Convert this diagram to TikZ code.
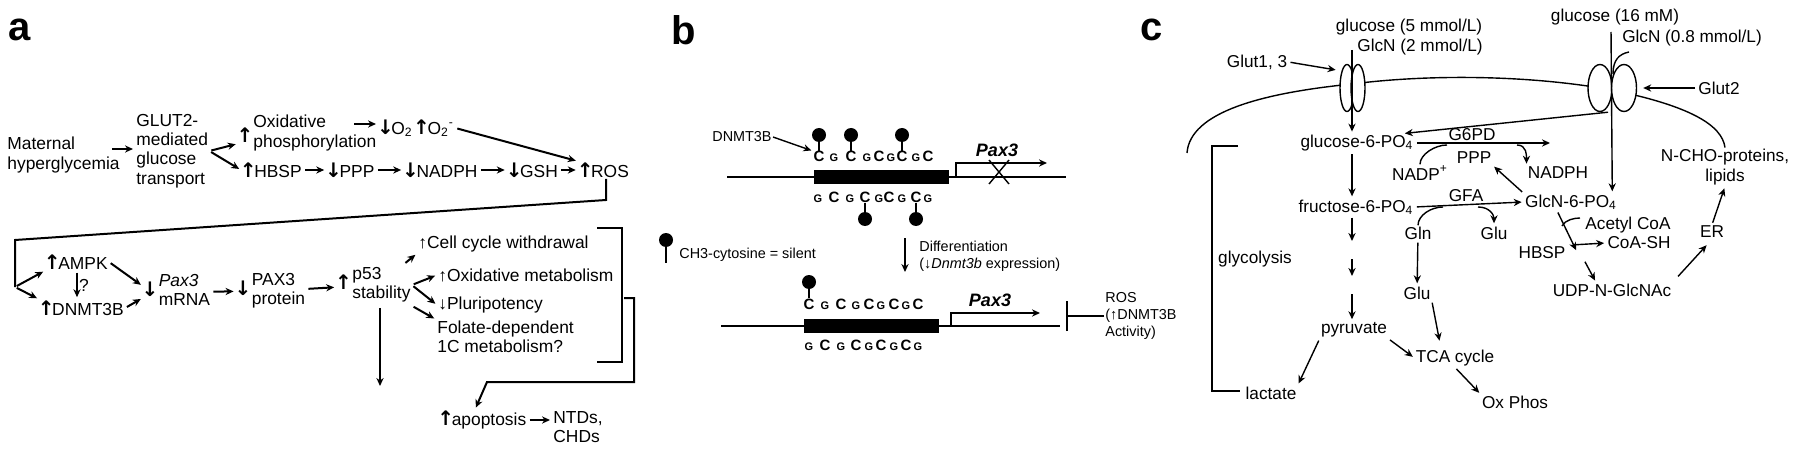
\documentclass[tikz,border=0pt]{standalone}
\usepackage{fontspec}
\setmainfont{Liberation Sans}
\newfontfamily\arrfont{DejaVu Sans}
\usepackage{tikz}
\usetikzlibrary{calc,shapes,positioning}
\usetikzlibrary{arrows.meta}
\tikzset{>={Stealth[length=4pt,width=3.6pt]}}
\newcommand{\upar}{\makebox[6pt][c]{\arrfont\bfseries\fontsize{10}{10}\selectfont ↑}}
\newcommand{\dnar}{\makebox[6pt][c]{\arrfont\bfseries\fontsize{10}{10}\selectfont ↓}}
\newcommand{\stk}[1]{\begin{tabular}[c]{@{}l@{}}#1\end{tabular}}

\begin{document}
\begin{tikzpicture}[x=0.5pt,y=-0.5pt]
      \tikzstyle{lbl} = [inner sep=0pt, font=\fontsize{20}{20}\selectfont\bfseries]
      \tikzstyle{atxt} = [inner sep=0.5pt, align=left, font=\fontsize{8.7}{9.7}\selectfont]
      \tikzstyle{aarr} = [->, line width=1pt, shorten >=1pt, shorten <=1pt]
      \tikzstyle{btxt} = [inner sep=0.5pt, align=left, font=\fontsize{7.2}{8.5}\selectfont]
      \tikzstyle{cbase} = [inner sep=0pt, anchor=base, font=\fontsize{7.5}{7.5}\selectfont\bfseries]
      \tikzstyle{gbase} = [inner sep=0pt, anchor=base, font=\fontsize{5.5}{5.5}\selectfont\bfseries]
      \tikzstyle{ball} = [circle, fill=black, inner sep=0pt, minimum size=7pt]
      \tikzstyle{ctxt} = [inner sep=0.5pt, align=center, font=\fontsize{8.6}{10}\selectfont]
      \tikzstyle{carr} = [->, line width=0.7pt, shorten >=1pt, shorten <=1pt]
      \tikzstyle{porter} = [draw, ellipse, fill=white, line width=0.7pt, inner sep=0pt]
      \useasboundingbox (0,0) rectangle (1800,449);

      % panel a
      \node[lbl] (la) at (20,30) {a};
      \node[atxt, anchor=west] (mat) at (6,155) {Maternal\\hyperglycemia};
      \node[atxt, anchor=west] (glut) at (135,151) {GLUT2-\\mediated\\glucose\\transport};
      \node[atxt] (oxup) at (245,135) {\upar};
      \node[atxt, anchor=west] (oxp) at (252,133) {Oxidative\\phosphorylation};
      \coordinate (oxa) at (352,124);
      \node[atxt, anchor=west] (o2) at (378,128) {\dnar O\textsubscript{2}\,\upar O\textsubscript{2}\textsuperscript{-}};
      \node[atxt] (hbsp) at (272,170) {\upar HBSP};
      \node[atxt] (ppp) at (351,170) {\dnar PPP};
      \node[atxt] (nadph) at (441,170) {\dnar NADPH};
      \node[atxt] (gsh) at (533,170) {\dnar GSH};
      \node[atxt] (ros) at (604,170) {\upar ROS};

      \coordinate (mata) at (110,149);
      \draw[aarr] (mata) -- (mata -| glut.west);
      \draw[aarr] (glut.east) -- (oxup.south west);
      \draw[aarr] (glut.east) -- (hbsp.west);
      \draw[aarr] (oxa) -- (oxa -| o2.west);
      \draw[aarr] (o2.east) -- (ros.north west);
      \draw[aarr] (hbsp) -- (ppp);
      \draw[aarr] (ppp) -- (nadph);
      \draw[aarr] (nadph) -- (gsh);
      \draw[aarr] (gsh) -- (ros);

      \coordinate (fb1) at (606,200);
      \coordinate (fb2) at (15,240);
      \coordinate (fb3) at (15,287);
      \draw[line width=1pt] (ros.south -| fb1) -- (fb1) -- (fb2) -- (fb3);

      \node[atxt] (ampk) at (77,262) {\upar AMPK};
      \node[atxt] (dnmt) at (82,308) {\upar DNMT3B};
      \node[atxt] (pax) at (177,292) {\dnar\,\stk{\textit{Pax3}\\mRNA}};
      \node[atxt] (pax3p) at (271,291) {\dnar\,\stk{PAX3\\protein}};
      \node[atxt] (p53) at (374,285) {\upar\,\stk{p53\\stability}};
      \draw[aarr] (fb3) -- (ampk.south west);
      \draw[aarr] (fb3) -- (dnmt.north west);
      \draw[aarr] (ampk.south) -- (ampk.south |- dnmt.north) node[atxt, midway, right] {?};
      \draw[aarr] (ampk.east) -- ([yshift=3pt]pax.west);
      \draw[aarr] (dnmt.east) -- ([yshift=-3pt]pax.west);
      \draw[aarr] (pax) -- (pax3p);
      \draw[aarr] (pax3p) -- (p53);

      \node[atxt, anchor=west] (cell) at (417,244) {↑Cell cycle withdrawal};
      \node[atxt, anchor=west] (oxm) at (437,275) {↑Oxidative metabolism};
      \node[atxt, anchor=west] (plu) at (437,305) {↓Pluripotency};
      \node[atxt, anchor=west] (fol) at (436,337) {Folate-dependent\\1C metabolism?};
      \draw[aarr] ([xshift=-4pt]p53.north east) -- (cell.south west);
      \draw[aarr] (p53.east) -- (oxm.west);
      \draw[aarr] (p53.east) -- (plu.west);
      \draw[aarr] (p53.south east) -- (fol.north west);

      \coordinate (b1a) at (597,228);
      \coordinate (b1b) at (622,228);
      \coordinate (b1c) at (622,362);
      \coordinate (b1d) at (597,362);
      \draw[line width=1pt] (b1a) -- (b1b) -- (b1c) -- (b1d);

      \node[atxt] (apop) at (483,420) {\upar apoptosis};
      \node[atxt, anchor=west] (ntd) at (552,427) {NTDs,\\CHDs};
      \coordinate (b2a) at (622,298);
      \coordinate (b2b) at (634,298);
      \coordinate (b2c) at (634,382);
      \coordinate (b2d) at (487,382);
      \draw[aarr] (b2a) -- (b2b) -- (b2c) -- (b2d) -- ([xshift=-4pt]apop.north);
      \draw[aarr] (apop) -- (apop -| ntd.west);
      \coordinate (p53x) at (380,388);
      \draw[aarr] (p53x |- p53.south) -- (p53x);

      % panel b
      \node[lbl] (lb) at (684,30) {b};
      \node[btxt] (dnmtb) at (742,137) {DNMT3B};
      \draw[line width=0.8pt] (727,177) -- (1066,177);
      \fill (814,170) rectangle (949,184);
      \foreach \x [count=\i] in {819,851,879,902,928}
        \node[cbase] (tc\i) at (\x,162) {C};
      \foreach \x [count=\i] in {834,867,891,916}
        \node[gbase] (tg\i) at (\x,162) {G};
      \foreach \x [count=\i] in {834,865,889,916}
        \node[cbase] (bc\i) at (\x,202) {C};
      \foreach \x [count=\i] in {818,850,879,902,928}
        \node[gbase] (bg\i) at (\x,202) {G};
      \foreach \i/\x in {1/819,2/851,4/902} {
        \node[ball] (tm\i) at (\x,135) {};
        \draw[line width=1pt] (tm\i) -- (tc\i);
      }
      \foreach \i/\x in {2/865,4/916} {
        \node[ball] (bm\i) at (\x,219) {};
        \draw[line width=1pt] (bm\i) -- (bc\i);
      }
      \draw[->, line width=0.7pt, shorten >=1pt] (dnmtb.east) -- (tc1.north west);
      \node[font=\fontsize{9}{9}\selectfont\bfseries\itshape] (paxa) at (997,150) {Pax3};
      \draw[->, line width=0.7pt] (956,177) -- (956,163) -- (1047,163);
      \draw[line width=0.7pt] (989,160) -- (1009,184) (989,184) -- (1009,160);

      \node[ball] (lg) at (666,240) {};
      \coordinate (lgs) at (666,263);
      \draw[line width=1pt] (lg) -- (lgs);
      \node[btxt, anchor=west] (lgt) at (678,255) {CH3-cytosine = silent};

      \coordinate (df1) at (905,238);
      \coordinate (df2) at (905,272);
      \draw[->, line width=0.6pt] (df1) -- (df2);
      \node[btxt, anchor=west] (dift) at (918,256) {Differentiation\\(↓\textit{Dnmt3b} expression)};

      \draw[line width=0.8pt] (721,326) -- (1060,326);
      \fill (804,319) rectangle (939,333);
      \foreach \x [count=\i] in {809,841,869,894,918}
        \node[cbase] (sc\i) at (\x,309) {C};
      \foreach \x [count=\i] in {825,856,881,906}
        \node[gbase] (sg\i) at (\x,309) {G};
      \foreach \x [count=\i] in {825,856,881,906}
        \node[cbase] (uc\i) at (\x,350) {C};
      \foreach \x [count=\i] in {809,841,869,894,918}
        \node[gbase] (ug\i) at (\x,350) {G};
      \node[ball] (sm1) at (809,282) {};
      \draw[line width=1pt] (sm1) -- (sc1);
      \node[font=\fontsize{9}{9}\selectfont\bfseries\itshape] (paxb) at (990,300) {Pax3};
      \draw[->, line width=0.7pt] (951,326) -- (951,313) -- (1040,313);
      \node[btxt, anchor=west] (rosb) at (1104,316) {ROS\\(↑DNMT3B\\Activity)};
      \coordinate (inh) at (1066,316);
      \draw[-{Bar[width=15pt]}, line width=0.8pt] (rosb.west) -- (inh);

      % panel c
      \node[lbl] (lc) at (1152,30) {c};
      \node[ctxt] (glc5) at (1409,27) {glucose (5 mmol/L)};
      \node[ctxt] (glcn2) at (1420,47) {GlcN (2 mmol/L)};
      \node[ctxt] (glut13) at (1257,62) {Glut1, 3};
      \node[ctxt] (glc16) at (1615,17) {glucose (16 mM)};
      \node[ctxt] (glcn08) at (1692,38) {GlcN (0.8 mmol/L)};
      \node[ctxt] (glut2) at (1719,88) {Glut2};
      \node[ctxt] (g6p) at (1357,143) {glucose-6-PO\textsubscript{4}};
      \node[ctxt] (g6pd) at (1472,135) {G6PD};
      \node[ctxt] (pppc) at (1474,158) {PPP};
      \node[ctxt] (nadp) at (1420,173) {NADP\textsuperscript{+}};
      \node[ctxt] (nadphc) at (1558,173) {NADPH};
      \node[ctxt] (f6p) at (1356,207) {fructose-6-PO\textsubscript{4}};
      \node[ctxt] (gfa) at (1466,196) {GFA};
      \node[ctxt] (gcn6p) at (1571,202) {GlcN-6-PO\textsubscript{4}};
      \node[ctxt] (gln) at (1418,233) {Gln};
      \node[ctxt] (glu1) at (1494,233) {Glu};
      \node[ctxt] (glu2) at (1417,293) {Glu};
      \node[ctxt] (glyc) at (1255,259) {glycolysis};
      \node[ctxt] (pyr) at (1354,330) {pyruvate};
      \node[ctxt] (lac) at (1271,393) {lactate};
      \node[ctxt] (tca) at (1455,358) {TCA cycle};
      \node[ctxt] (oxph) at (1515,402) {Ox Phos};
      \node[ctxt] (hbspc) at (1542,253) {HBSP};
      \node[ctxt] (acoa) at (1628,225) {Acetyl CoA};
      \node[ctxt, anchor=east] (coash) at (1672,243) {CoA-SH};
      \node[ctxt] (udp) at (1612,290) {UDP-N-GlcNAc};
      \node[ctxt] (er) at (1712,232) {ER};
      \node[ctxt] (ncho) at (1725,167) {N-CHO-proteins,\\lipids};

      \draw[line width=0.7pt] (1187,153) .. controls (1190,112) and (1262,93) .. (1352,84)
        .. controls (1430,74) and (1530,75) .. (1612,90)
        .. controls (1690,106) and (1722,125) .. (ncho.north);
      \node[porter, minimum width=7pt, minimum height=23.5pt] (t1a) at (1347,88) {};
      \node[porter, minimum width=7pt, minimum height=23.5pt] (t1b) at (1358,88) {};
      \node[porter, minimum width=12pt, minimum height=23.5pt] (t2a) at (1600,88) {};
      \node[porter, minimum width=12.5pt, minimum height=23.5pt] (t2b) at (1624,88) {};

      \coordinate (t1top) at (1352,48);
      \draw[carr] (t1top) -- (t1top |- g6p.north);
      \draw[carr, shorten >=3pt] (glut13.east) -- (t1a.north west);
      \draw[carr, shorten >=3pt] (glut2.west) -- (t2b.east);
      \coordinate (t2top) at (1611,30);
      \draw[carr] (t2top) -- ([xshift=-3pt]gcn6p.north east);
      \draw[line width=0.7pt] (1613,74) .. controls (1613,60) and (1619,54) .. (1629,52);
      \coordinate (t2out) at (1610,112);
      \draw[carr] (t2out) -- ([xshift=-6pt]g6p.north east);

      \coordinate (pend) at (1552,145);
      \draw[carr] (g6p.east) -- (g6p.east -| pend);
      \draw[line width=0.7pt] (nadp.north) .. controls +(0,-10) and +(-12,0) .. (1447,145);
      \draw[carr] (1515,145) .. controls +(12,0) and +(0,-10) .. (nadphc.north west);
      \draw[carr] (gcn6p.north west) -- (pppc.south east);
      \draw[carr] (g6p.south -| t1top) -- (f6p.north -| t1top);
      \draw[carr] (f6p.east) -- (gcn6p.west);
      \draw[line width=0.7pt] (gln.north) .. controls +(0,-10) and +(-12,0) .. (1443,207);
      \draw[carr] (1476,207) .. controls +(14,0) and +(0,-10) .. (glu1.north);

      \coordinate (ga) at (1352,243);
      \coordinate (gb) at (1352,257);
      \coordinate (gc) at (1352,278);
      \coordinate (gd) at (1352,292);
      \draw[carr] (f6p.south -| ga) -- (ga);
      \draw[carr] (gb) -- (gc);
      \draw[carr] (gd) -- (gd |- pyr.north);
      \draw[carr] (gln) -- (glu2);
      \draw[carr, shorten >=4pt] (glu2.south east) -- ([xshift=-7pt]tca.north);
      \draw[carr] (pyr.south west) -- (lac.north east);
      \draw[carr] (pyr.south east) -- (tca.west);
      \draw[carr] (tca.south) -- (oxph.north west);
      \draw[line width=1pt] (1238,146) -- (1212,146) -- (1212,391) -- (1240,391);

      \coordinate (hb2) at (1577,252);
      \coordinate (hb3) at (1584,260);
      \draw[carr] ([xshift=-7pt]gcn6p.south) -- (hb2);
      \draw[carr] (hb3) -- ([xshift=-8pt]udp.north);
      \draw[line width=0.7pt] (1562,226) .. controls +(3,-6) and +(-6,0) .. (1580,218);
      \coordinate (csh) at (1571,245);
      \draw[carr] (csh) -- (coash.west);
      \draw[carr, shorten >=4pt, shorten <=4pt] (udp.north east) -- (er.south);
      \draw[carr] (er.north) -- (ncho.south);
    \end{tikzpicture}
\end{document}
